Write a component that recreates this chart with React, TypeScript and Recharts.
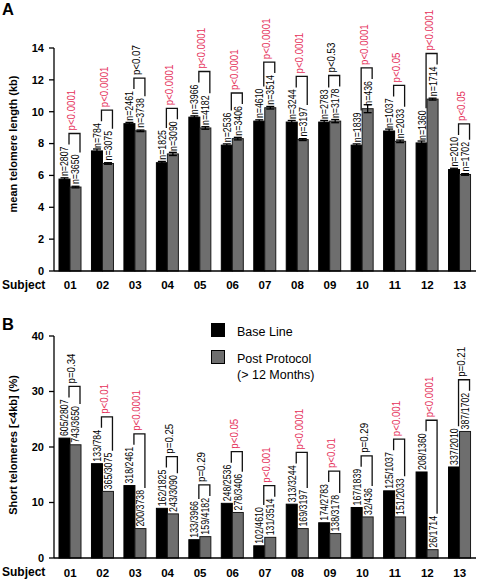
import React from 'react';
import { BarChart, Bar, XAxis, YAxis, ErrorBar, Legend, Label } from 'recharts';

// subjects and values
const subjects = ['01', '02', '03', '04', '05', '06', '07', '08', '09', '10', '11', '12', '13'];

// panel A: mean telomere length (kb)
const baseLength = [5.77, 7.54, 9.25, 6.8, 9.66, 7.9, 9.41, 9.35, 9.35, 7.9, 8.79, 8.04, 6.37];
const postLength = [5.27, 6.75, 8.8, 7.35, 8.98, 8.31, 10.25, 8.25, 9.41, 10.19, 8.14, 10.79, 6.06];
const baseLengthErr = [0.08, 0.12, 0.08, 0.08, 0.08, 0.08, 0.08, 0.1, 0.1, 0.08, 0.12, 0.12, 0.08];
const postLengthErr = [0.05, 0.05, 0.05, 0.1, 0.08, 0.08, 0.08, 0.06, 0.1, 0.25, 0.08, 0.06, 0.05];
const baseN = [2807, 784, 2461, 1825, 3966, 2536, 4610, 3244, 2783, 1839, 1037, 1360, 2010];
const postN = [3650, 3075, 3738, 3090, 4182, 3406, 3514, 3197, 3178, 436, 2033, 1714, 1702];
const pLength = ['p<0.0001', 'p<0.0001', 'p<0.07', 'p<0.0001', 'p<0.0001', 'p<0.0001', 'p<0.0001', 'p<0.0001', 'p<0.53', 'p<0.0001', 'p<0.05', 'p<0.0001', 'p<0.05'];
const sigLength = [true, true, false, true, true, true, true, true, false, true, true, true, true];
const lengthTicks = [0, 2, 4, 6, 8, 10, 12, 14];

// panel B: short telomeres [<4kb] (%)
const baseShort = [21.6, 17.0, 13.05, 8.95, 3.3, 9.85, 2.2, 9.7, 6.35, 9.1, 12.1, 15.5, 16.4];
const postShort = [20.4, 12.0, 5.3, 7.95, 3.85, 8.2, 3.72, 5.3, 4.4, 7.4, 7.4, 1.5, 22.8];
const baseShortCount = [605, 133, 318, 162, 133, 248, 102, 313, 174, 167, 125, 208, 337];
const postShortCount = [743, 365, 200, 243, 159, 278, 131, 169, 138, 32, 151, 26, 387];
const pShort = ['p=0.34', 'p<0.01', 'p<0.0001', 'p=0.25', 'p=0.29', 'p<0.05', 'p<0.001', 'p<0.0001', 'p<0.01', 'p=0.29', 'p<0.001', 'p<0.0001', 'p=0.21'];
const sigShort = [false, true, true, false, false, true, true, true, true, false, true, true, false];
const shortTicks = [0, 10, 20, 30, 40];

const FONT = '"Liberation Sans", Arial, Helvetica, sans-serif';
const RED = '#e5305a';
const GRAY = '#6e6e6e';
// bar labels in the figure are tall and narrow: draw bigger, squeeze along the text
const N_SIZE = 11;
const N_SQUEEZE = 0.8;
const P_SIZE = 11;
const P_SQUEEZE = 0.88;

type Row = {
  subject: string;
  base: number;
  post: number;
  baseErr?: number;
  postErr?: number;
  baseLabel: string;
  postLabel: string;
  p: string;
  sig: boolean;
};

const lengthRows: Row[] = subjects.map((subject, i) => ({
  subject,
  base: baseLength[i],
  post: postLength[i],
  baseErr: baseLengthErr[i],
  postErr: postLengthErr[i],
  baseLabel: `n=${baseN[i]}`,
  postLabel: `n=${postN[i]}`,
  p: pLength[i],
  sig: sigLength[i],
}));

const shortRows: Row[] = subjects.map((subject, i) => ({
  subject,
  base: baseShort[i],
  post: postShort[i],
  baseLabel: `${baseShortCount[i]}/${baseN[i]}`,
  postLabel: `${postShortCount[i]}/${postN[i]}`,
  p: pShort[i],
  sig: sigShort[i],
}));

let measureCtx: CanvasRenderingContext2D | null = null;
function textWidth(text: string, size: number) {
  if (!measureCtx) measureCtx = document.createElement('canvas').getContext('2d');
  if (!measureCtx) return text.length * size * 0.55;
  measureCtx.font = `${size}px "Liberation Sans"`;
  return measureCtx.measureText(text).width;
}

function VText({ x, y, size, color = '#000', anchor = 'start', weight = 'normal', len, children }: any) {
  return (
    <text
      x={x}
      y={y}
      transform={`rotate(-90 ${x} ${y})`}
      fontSize={size}
      fontFamily={FONT}
      fontWeight={weight}
      fill={color}
      textAnchor={anchor}
      textLength={len}
      lengthAdjust={len ? 'spacingAndGlyphs' : undefined}
    >
      {children}
    </text>
  );
}

function makeBaseShape(gap: number, data: Row[]) {
  return (props: any) => {
    const { x, y, width, height, index } = props;
    const row: Row = props.payload || data[index];
    const cx = x + width / 2;
    const len = textWidth(row.baseLabel, N_SIZE) * N_SQUEEZE;
    return (
      <g>
        <rect x={x} y={y} width={width} height={height} fill="#000" stroke="#000" strokeWidth={1} />
        <VText x={cx + 4} y={y - gap} size={N_SIZE} len={len}>{row.baseLabel}</VText>
      </g>
    );
  };
}

function makePostShape(gap: number, data: Row[]) {
  return (props: any) => {
    const { x, y, width, height, index } = props;
    const row: Row = props.payload || data[index];
    const bottom = y + height;
    const perUnit = row.post ? height / row.post : 0;
    const baseTop = bottom - row.base * perUnit;
    const baseCx = x - width / 2;
    const postCx = x + width / 2;
    const legL = baseCx + 4.5;
    const legR = postCx + 4.5;
    const postLen = textWidth(row.postLabel, N_SIZE) * N_SQUEEZE;
    const baseLabelTop = baseTop - gap - textWidth(row.baseLabel, N_SIZE) * N_SQUEEZE;
    const postLabelTop = y - gap - postLen;
    const top = Math.min(baseLabelTop, postLabelTop) - 13;
    const pLen = textWidth(row.p, P_SIZE) * P_SQUEEZE;
    return (
      <g>
        <rect x={x} y={y} width={width} height={height} fill={GRAY} stroke="#1a1a1a" strokeWidth={1} />
        <VText x={postCx + 4} y={y - gap} size={N_SIZE} len={postLen}>{row.postLabel}</VText>
        <path
          d={`M${legL},${baseLabelTop - 2}V${top}H${legR}V${postLabelTop - 2}`}
          fill="none"
          stroke="#111"
          strokeWidth={1.3}
        />
        <VText x={(legL + legR) / 2 + 1} y={top - 3} size={P_SIZE} len={pLen} color={row.sig ? RED : '#000'}>
          {row.p}
        </VText>
      </g>
    );
  };
}

function yTitle(text: string, shift: number, letter: string, letterY: number) {
  return (props: any) => {
    const vb = props.viewBox || {};
    const cy = vb.y + vb.height / 2 + shift;
    return (
      <g>
        <VText x={17} y={cy} size={11} weight="bold" anchor="middle">{text}</VText>
        <text x={2} y={letterY} fontSize={16.5} fontWeight="bold" fontFamily={FONT} fill="#000">{letter}</text>
      </g>
    );
  };
}

function subjectLabel(props: any) {
  const vb = props.viewBox || {};
  return (
    <text x={2} y={vb.y + 18} fontSize={12} fontWeight="bold" fontFamily={FONT} fill="#000">Subject</text>
  );
}

function LegendBox(props: any) {
  const payload = props.payload || [];
  const colors = ['#000', GRAY];
  return (
    <div style={{ fontFamily: FONT, fontSize: 12.5, color: '#000' }}>
      {payload.map((e: any, i: number) => {
        const parts = String(e.value).split(' (');
        return (
          <div key={i} style={{ display: 'flex', alignItems: 'flex-start', marginBottom: 9 }}>
            <div style={{ width: 12, height: 12, background: colors[i], border: '1px solid #000', marginRight: 12, marginTop: 1, flex: 'none' }} />
            <div style={{ lineHeight: '16px', marginTop: 2 }}>
              {parts[0]}
              {parts[1] && (
                <>
                  <br />({parts[1]}
                </>
              )}
            </div>
          </div>
        );
      })}
    </div>
  );
}

const axisLine = { stroke: '#000', strokeWidth: 1.3 };
const yTick = { fontSize: 11, fontWeight: 'bold', fill: '#000', fontFamily: FONT };
const xTick = { fontSize: 11.5, fontWeight: 'bold', fill: '#000', fontFamily: FONT };

export default function App() {
  return (
    <div style={{ position: 'absolute', left: 0, top: 0, width: 480, height: 579, background: '#fff' }}>
      <BarChart
        width={480}
        height={295}
        data={lengthRows}
        margin={{ top: 48, right: 4, bottom: 0, left: 0 }}
        barGap={0}
        barCategoryGap={5}
      >
        <XAxis
          dataKey="subject"
          height={24}
          interval={0}
          tickLine={false}
          axisLine={axisLine}
          tick={xTick}
          tickMargin={4}
          label={<Label content={subjectLabel} />}
        />
        <YAxis
          width={54}
          domain={[0, 14]}
          ticks={lengthTicks}
          interval={0}
          tickSize={5}
          tickMargin={5}
          axisLine={axisLine}
          tickLine={{ stroke: '#000', strokeWidth: 1.3 }}
          tick={yTick}
          label={<Label content={yTitle('mean telomere length (kb)', -15.5, 'A', 15)} />}
        />
        <Bar dataKey="base" name="Base Line" fill="#000" isAnimationActive={false} shape={makeBaseShape(3, lengthRows)}>
          <ErrorBar dataKey="baseErr" width={4} stroke="#000" strokeWidth={1.3} direction="y" />
        </Bar>
        <Bar dataKey="post" name="Post Protocol (> 12 Months)" fill={GRAY} isAnimationActive={false} shape={makePostShape(3, lengthRows)}>
          <ErrorBar dataKey="postErr" width={4} stroke="#000" strokeWidth={1.3} direction="y" />
        </Bar>
      </BarChart>

      <div style={{ position: 'absolute', left: 0, top: 290 }}>
        <BarChart
          width={480}
          height={289}
          data={shortRows}
          margin={{ top: 46, right: 4, bottom: 0, left: 0 }}
          barGap={0}
          barCategoryGap={5}
        >
          <XAxis
            dataKey="subject"
            height={21}
            interval={0}
            tickLine={false}
            axisLine={axisLine}
            tick={xTick}
            tickMargin={5}
            label={<Label content={subjectLabel} />}
          />
          <YAxis
            width={54}
            domain={[0, 40]}
            ticks={shortTicks}
            interval={0}
            tickSize={5}
            tickMargin={5}
            axisLine={axisLine}
            tickLine={{ stroke: '#000', strokeWidth: 1.3 }}
            tick={yTick}
            label={<Label content={yTitle('Short telomeres [<4kb] (%)', -2, 'B', 40)} />}
          />
          <Legend
            layout="vertical"
            align="center"
            verticalAlign="middle"
            content={LegendBox}
            wrapperStyle={{ top: 32, left: 211, width: 200, height: 60 }}
          />
          <Bar dataKey="base" name="Base Line" fill="#000" isAnimationActive={false} shape={makeBaseShape(2, shortRows)} />
          <Bar dataKey="post" name="Post Protocol (> 12 Months)" fill={GRAY} isAnimationActive={false} shape={makePostShape(2, shortRows)} />
        </BarChart>
      </div>
    </div>
  );
}
